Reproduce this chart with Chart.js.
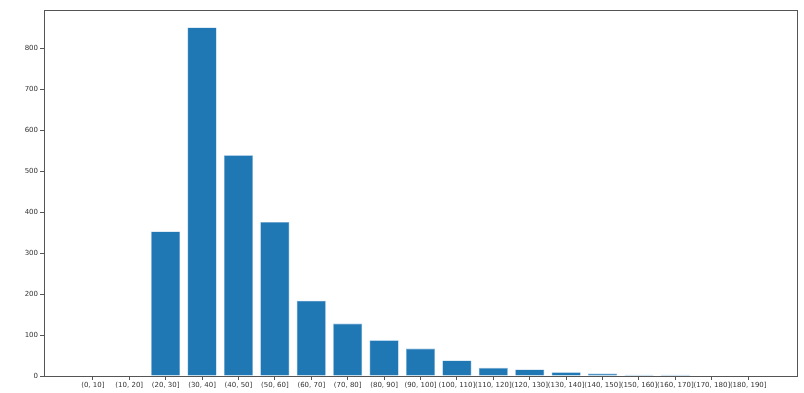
<!DOCTYPE html>
<html>
<head>
<meta charset="utf-8">
<script src="https://cdn.jsdelivr.net/npm/chart.js@4/dist/chart.umd.min.js"></script>
<style>
html,body{margin:0;padding:0;background:#fff;}
#wrap{width:804px;height:393px;position:relative;}
</style>
</head>
<body>
<div id="wrap"><canvas id="c" width="804" height="393"></canvas></div>
<script>
const categories = ["(0, 10]","(10, 20]","(20, 30]","(30, 40]","(40, 50]","(50, 60]","(60, 70]","(70, 80]","(80, 90]","(90, 100]","(100, 110]","(110, 120]","(120, 130]","(130, 140]","(140, 150]","(150, 160]","(160, 170]","(170, 180]","(180, 190]"];
const counts = [0,0,353,851,539,376,184,128,87,67,38,20,16,9,6,3,3,0,0];
const yTicks = [0,100,200,300,400,500,600,700,800];

const frame = {
  id:'frame',
  afterDraw(chart){
    const a = chart.chartArea, ctx = chart.ctx;
    ctx.save();
    ctx.strokeStyle = '#555';
    ctx.lineWidth = 1;
    ctx.strokeRect(Math.round(a.left)+0.5, Math.round(a.top)+0.5, Math.round(a.right-a.left), Math.round(a.bottom-a.top));
    ctx.restore();
  }
};

new Chart(document.getElementById('c'), {
  type:'bar',
  data:{
    datasets:[{
      data: counts.map((v,i)=>({x:i,y:v})),
      backgroundColor:'#1f77b4',
      borderColor:'#7fb3dc',
      borderWidth:0.6,
      barPercentage:0.8,
      categoryPercentage:1.0
    }]
  },
  plugins:[frame],
  options:{
    responsive:false,
    animation:false,
    layout:{padding:{top:10,right:7,left:0,bottom:0}},
    plugins:{legend:{display:false},tooltip:{enabled:false}},
    scales:{
      x:{
        type:'linear',
        min:-1.34, max:19.34,
        offset:false,
        afterBuildTicks(s){ s.ticks = categories.map((c,i)=>({value:i})); },
        afterFit(s){ s.height = 17; },
        ticks:{
          autoSkip:false, maxRotation:0, minRotation:0,
          color:'#333', padding:1,
          font:{family:'DejaVu Sans', size:7},
          callback:(v)=>categories[v] ?? ''
        },
        grid:{offset:false, drawOnChartArea:false, tickLength:4, tickColor:'#555', drawTicks:true},
        border:{display:false}
      },
      y:{
        min:0, max:893.5,
        afterBuildTicks(s){ s.ticks = yTicks.map(v=>({value:v})); },
        afterFit(s){ s.width = 44; },
        ticks:{
          color:'#333', padding:2,
          font:{family:'DejaVu Sans', size:7}
        },
        grid:{drawOnChartArea:false, tickLength:4, tickColor:'#555'},
        border:{display:false}
      }
    }
  }
});
</script>
</body>
</html>
